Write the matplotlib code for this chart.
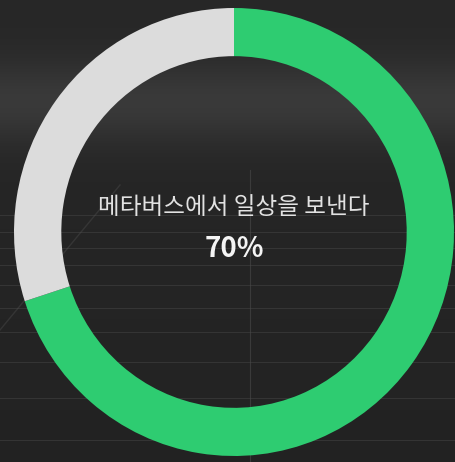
import numpy as np
from matplotlib import pyplot as plt

plt.rcParams['font.family'] = ['Noto Sans CJK KR', 'DejaVu Sans']

# Donut data
labels = ['메타버스에서 일상을 보낸다', '기타']
values = [70, 30]
colors = ['#2ECC71', '#DCDCDC']
center_label = '메타버스에서 일상을 보낸다'
center_value = '70%'

W, H = 455, 462
fig = plt.figure(figsize=(W / 100, H / 100), dpi=100)

# Background: dark photo-like gradient with faint grid lines
bg = fig.add_axes([0, 0, 1, 1])
rows = np.linspace(0, 1, H)
shade = 0.155 + 0.075 * np.exp(-((rows - 0.22) / 0.09) ** 2) - 0.02 * rows
img = np.repeat(shade[:, None], W, axis=1)
bg.imshow(np.dstack([img, img, img]), extent=(0, W, H, 0), aspect='auto')
for y in [215, 232, 248, 265, 285, 308, 332, 362, 398, 440]:
    bg.plot([0, W], [y, y], color='#4a4a4a', lw=0.8, alpha=0.45)
bg.plot([250, 250], [170, H], color='#4a4a4a', lw=0.8, alpha=0.6)
bg.plot([0, 120], [330, 185], color='#555555', lw=1.0, alpha=0.35)
bg.set_xlim(0, W)
bg.set_ylim(H, 0)
bg.set_axis_off()

# Donut
ax = fig.add_axes([0, 0, 1, 1])
ax.patch.set_alpha(0)
ax.pie(values, colors=colors, startangle=90, counterclock=False,
       radius=1, wedgeprops=dict(width=0.215, edgecolor='none'))
cx, cy = 234, 232
rx, ry = 220, 224
ax.set_aspect('auto')
ax.set_xlim(-cx / rx, (W - cx) / rx)
ax.set_ylim(-(H - cy) / ry, cy / ry)
ax.set_axis_off()

ax.text(0, (cy - 207) / ry, center_label, ha='center', va='center',
        fontsize=17, color='#E2E2E2')
ax.text(0, (cy - 249) / ry, center_value, ha='center', va='center',
        fontsize=20, color='#F4F4F4', fontweight='bold')

fig.savefig('out.png', dpi=100)
